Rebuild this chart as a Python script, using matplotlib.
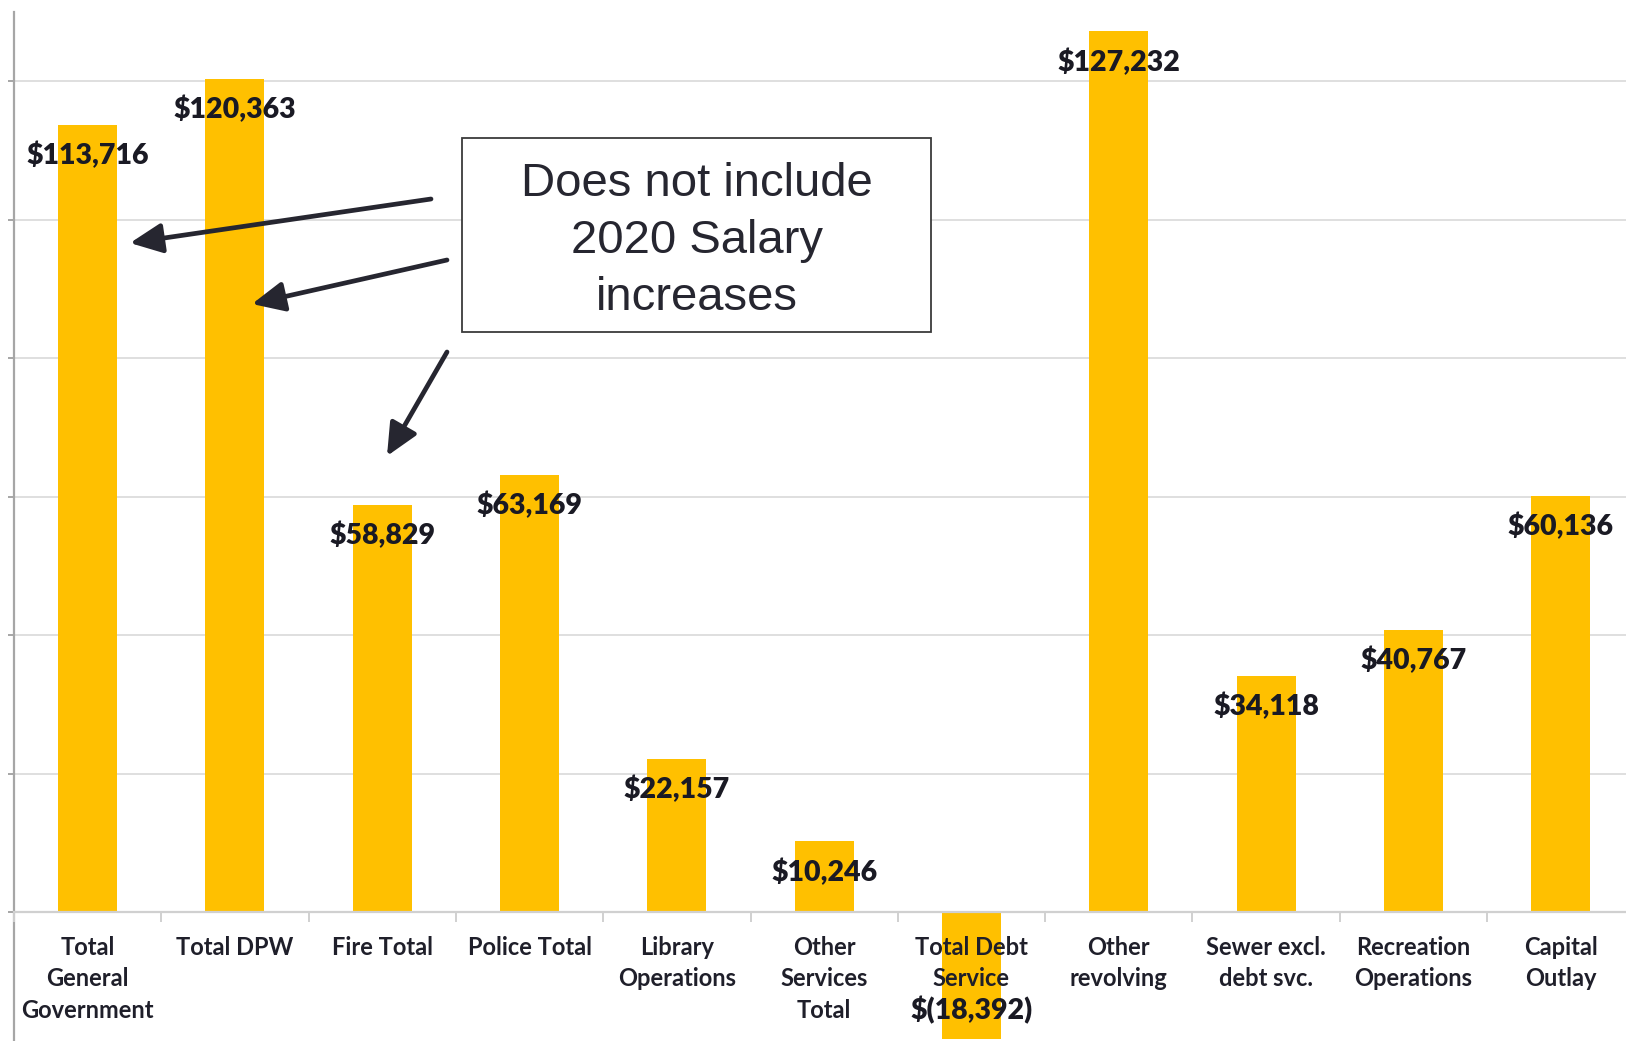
import matplotlib
matplotlib.use("Agg")
import matplotlib.pyplot as plt
from matplotlib.patches import Rectangle, FancyArrowPatch
import numpy as np

categories = ["Total\nGeneral\nGovernment", "Total DPW", "Fire Total", "Police Total",
              "Library\nOperations", "Other\nServices\nTotal", "Total Debt\nService",
              "Other\nrevolving", "Sewer excl.\ndebt svc.", "Recreation\nOperations",
              "Capital\nOutlay"]
values = [113716, 120363, 58829, 63169, 22157, 10246, -18392, 127232, 34118, 40767, 60136]
value_labels = ["$113,716", "$120,363", "$58,829", "$63,169", "$22,157", "$10,246",
                "$(18,392)", "$127,232", "$34,118", "$40,767", "$60,136"]
note_text = "Does not include\n2020 Salary\nincreases"

W, H = 1626, 1041
DPI = 100
fig = plt.figure(figsize=(W / DPI, H / DPI), dpi=DPI)
fig.patch.set_facecolor("white")

cat_w = 147.3
ax_left_px, ax_top_px = 14, 12
ax = fig.add_axes([ax_left_px / W, 0, 11 * cat_w / W, (H - ax_top_px) / H])

x = np.arange(len(values))
ax.bar(x, values, width=0.40, color="#FFC000", zorder=3)
ax.set_xlim(-0.5, 10.5)
ax.set_ylim(-18633, 130000)

# grid
ax.set_yticks(np.arange(0, 130000, 20000))
ax.yaxis.grid(True, color="#D9D9D9", linewidth=1.2, zorder=0)
ax.set_yticklabels([])
ax.tick_params(axis="y", direction="out", length=4, width=1.4, color="#A6A6A6")

for s in ["top", "right"]:
    ax.spines[s].set_visible(False)
ax.spines["left"].set_color("#A6A6A6")
ax.spines["left"].set_linewidth(1.6)
ax.spines["bottom"].set_position(("data", 0))
ax.spines["bottom"].set_color("#D0D0D0")
ax.spines["bottom"].set_linewidth(1.6)
ax.spines["bottom"].set_zorder(4)

ax.set_xticks(x)
ax.set_xticklabels(categories, fontfamily="Lato", fontweight=700,
                   fontsize=17, color="#1F1F2A", linespacing=1.45)
ax.tick_params(axis="x", length=0, pad=17)
ax.set_xticks(np.arange(-0.5, 11, 1), minor=True)
ax.tick_params(axis="x", which="minor", length=7, width=1.4, color="#D0D0D0", direction="out")
ax.xaxis.set_zorder(6)

for xi, v, lab in zip(x, values, value_labels):
    off = -31 if v >= 0 else 29
    ax.annotate(lab, (xi, v), xytext=(0, off), textcoords="offset pixels",
                ha="center", va="center", fontsize=20.5, fontfamily="Lato",
                fontweight=800, color="#1A1A24", zorder=7)

# note box
bx0, bx1, by0, by1 = 462, 931, 138, 332
rect = Rectangle((bx0, H - by1), bx1 - bx0, by1 - by0, transform=None,
                 facecolor="white", edgecolor="#3A3A3A", linewidth=1.3, zorder=10)
fig.patches.append(rect)
fig.text((bx0 + bx1) / 2 / W, 1 - 241 / H, note_text, ha="center", va="center",
         fontsize=34, fontfamily="Liberation Sans", color="#262630",
         linespacing=1.38, zorder=11)

arrows = [((431, 199), (130, 243)), ((447, 260), (252, 304)), ((447, 352), (387, 456))]
for (tx, ty), (hx, hy) in arrows:
    fig.add_artist(FancyArrowPatch(
        (tx / W, 1 - ty / H), (hx / W, 1 - hy / H), transform=fig.transFigure,
        arrowstyle="-|>,head_length=1.4,head_width=0.65", mutation_scale=14,
        color="#262630", linewidth=3.4, shrinkA=0, shrinkB=0, zorder=12))

fig.savefig("out.png", dpi=DPI)
